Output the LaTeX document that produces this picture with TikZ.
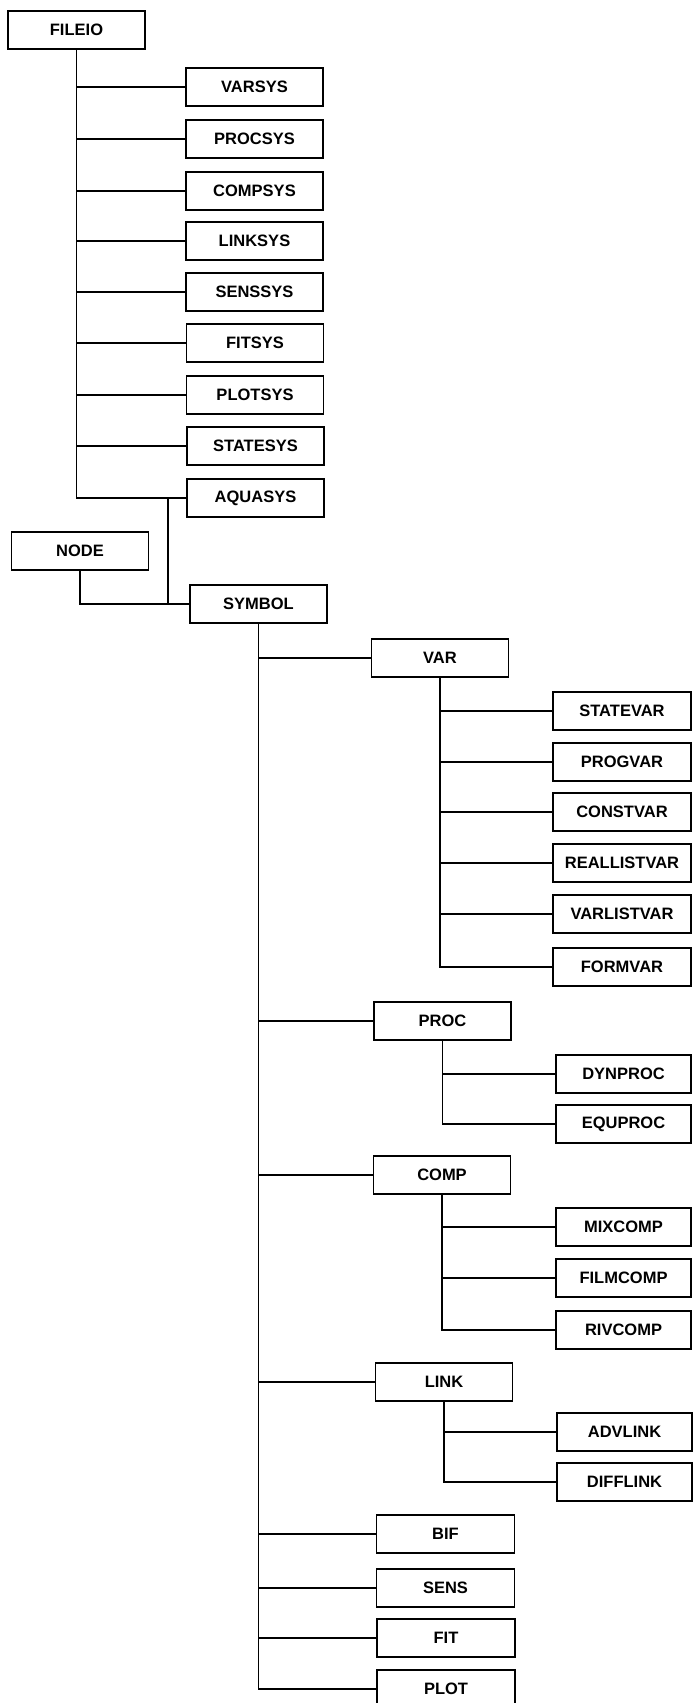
\documentclass[tikz,border=0pt]{standalone}
\usepackage{fontspec}
\setmainfont{Liberation Sans}
\begin{document}
\begin{tikzpicture}[x=1pt,y=-1pt,
  cls/.style={draw,line width=1.9pt,minimum height=38pt,inner sep=0pt,
    font=\fontsize{16.5}{19}\selectfont\bfseries},
  w137/.style={cls,minimum width=137pt},
  w138/.style={cls,minimum width=138pt},
  w135/.style={cls,minimum width=135pt},
  link/.style={line width=1.9pt,line join=miter}]
\useasboundingbox (0,0) rectangle (693,1703);
\clip (0,0) rectangle (693,1703);

% system classes under FILEIO
\node[w137] (fileio)   at (76.5,30)   {FILEIO};
\node[w137] (varsys)   at (254.5,87)  {VARSYS};
\node[w137] (procsys)  at (254.5,139) {PROCSYS};
\node[w137] (compsys)  at (254.5,191) {COMPSYS};
\node[w137] (linksys)  at (254.5,241) {LINKSYS};
\node[w137] (senssys)  at (254.5,292) {SENSSYS};
\node[w137] (fitsys)   at (255,343)   {FITSYS};
\node[w137] (plotsys)  at (255,395)   {PLOTSYS};
\node[w137] (statesys) at (255.5,446) {STATESYS};
\node[w137] (aquasys)  at (255.5,498) {AQUASYS};

% NODE and SYMBOL
\node[w137] (nodebox)  at (80,551)    {NODE};
\node[w137] (symbol)   at (258.5,604) {SYMBOL};

% symbol subclasses
\node[w137] (var)  at (440,658)    {VAR};
\node[w137] (proc) at (442.5,1021) {PROC};
\node[w137] (comp) at (442,1175)   {COMP};
\node[w137] (lnk)  at (444,1382)   {LINK};
\node[w138] (bif)  at (445.5,1534) {BIF};
\node[w138] (sens) at (445.5,1588) {SENS};
\node[w138] (fit)  at (446,1638)   {FIT};
\node[w138] (plot) at (446,1689)   {PLOT};

% variable kinds
\node[w138] (statevar)    at (622,711) {STATEVAR};
\node[w138] (progvar)     at (622,762) {PROGVAR};
\node[w138] (constvar)    at (622,812) {CONSTVAR};
\node[w138] (reallistvar) at (622,863) {REALLISTVAR};
\node[w138] (varlistvar)  at (622,914) {VARLISTVAR};
\node[w138] (formvar)     at (622,967) {FORMVAR};

% process kinds
\node[w135] (dynproc) at (623.5,1074) {DYNPROC};
\node[w135] (equproc) at (623.5,1124) {EQUPROC};

% compartment kinds
\node[w135] (mixcomp)  at (623.5,1227) {MIXCOMP};
\node[w135] (filmcomp) at (623.5,1278) {FILMCOMP};
\node[w135] (rivcomp)  at (623.5,1330) {RIVCOMP};

% link kinds
\node[w135] (advlink)  at (624.5,1432) {ADVLINK};
\node[w135] (difflink) at (624.5,1482) {DIFFLINK};

% FILEIO tree
\draw[link] (fileio.south) -- (fileio.south |- aquasys.west) -- (aquasys.west);
\foreach \c in {varsys,procsys,compsys,linksys,senssys,fitsys,plotsys,statesys}
  \draw[link] (fileio.south |- \c.west) -- (\c.west);

% AQUASYS / NODE -> SYMBOL
\coordinate (jn) at (168,498);
\draw[link] (jn) -- (jn |- symbol.west);
\draw[link] (nodebox.south) -- (nodebox.south |- symbol.west) -- (symbol.west);

% SYMBOL tree
\draw[link] (symbol.south) -- (symbol.south |- plot.west) -- (plot.west);
\foreach \c in {var,proc,comp,lnk,bif,sens,fit}
  \draw[link] (symbol.south |- \c.west) -- (\c.west);

% VAR tree
\draw[link] (var.south) -- (var.south |- formvar.west) -- (formvar.west);
\foreach \c in {statevar,progvar,constvar,reallistvar,varlistvar}
  \draw[link] (var.south |- \c.west) -- (\c.west);

% PROC tree
\draw[link] (proc.south) -- (proc.south |- equproc.west) -- (equproc.west);
\draw[link] (proc.south |- dynproc.west) -- (dynproc.west);

% COMP tree
\draw[link] (comp.south) -- (comp.south |- rivcomp.west) -- (rivcomp.west);
\foreach \c in {mixcomp,filmcomp}
  \draw[link] (comp.south |- \c.west) -- (\c.west);

% LINK tree
\draw[link] (lnk.south) -- (lnk.south |- difflink.west) -- (difflink.west);
\draw[link] (lnk.south |- advlink.west) -- (advlink.west);
\end{tikzpicture}
\end{document}
